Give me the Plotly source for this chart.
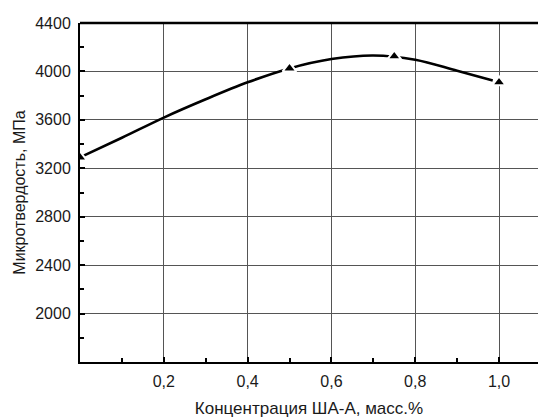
import plotly.graph_objects as go

# measured points
point_x = [0.0, 0.5, 0.75, 1.0]
point_y = [3290, 4025, 4125, 3910]

# fitted curve
curve_x = [0.0, 0.1, 0.2, 0.3, 0.4, 0.5, 0.6, 0.7, 0.8, 0.9, 0.985]
curve_y = [3290, 3452, 3619, 3770, 3910, 4025, 4102, 4132, 4097, 4005, 3925]

x_tickvals = [0.2, 0.4, 0.6, 0.8, 1.0]
x_ticktext = ["0,2", "0,4", "0,6", "0,8", "1,0"]
y_tickvals = [2000, 2400, 2800, 3200, 3600, 4000, 4400]
y_ticktext = ["2000", "2400", "2800", "3200", "3600", "4000", "4400"]

x_title = "Концентрация ША-А, масс.%"
y_title = "Микротвердость, МПа"

FONT = "Liberation Sans, Arial, sans-serif"

fig = go.Figure()
fig.add_trace(go.Scatter(
    x=curve_x, y=curve_y, mode="lines",
    line=dict(color="black", width=2.6, shape="spline", smoothing=1.0),
    hoverinfo="skip", showlegend=False,
))
fig.add_trace(go.Scatter(
    x=point_x, y=point_y, mode="markers",
    marker=dict(symbol="triangle-up", size=12, color="black",
                line=dict(color="white", width=2)),
    showlegend=False, cliponaxis=True,
))

fig.update_layout(
    width=538, height=418,
    margin=dict(l=80, r=0, t=23, b=56),
    paper_bgcolor="white", plot_bgcolor="white",
    font=dict(family=FONT, color="#1a1a1a"),
    showlegend=False,
)
fig.update_xaxes(
    range=[0, 1.093], tickvals=x_tickvals, ticktext=x_ticktext,
    tickfont=dict(size=16, color="#1a1a1a"),
    showgrid=True, gridcolor="#555555", gridwidth=1,
    showline=True, linecolor="black", linewidth=2,
    mirror=False, zeroline=False,
    ticks="inside", ticklen=5, tickwidth=1.5, tickcolor="black",
    minor=dict(ticks="inside", ticklen=4, tickwidth=1.5, tickcolor="black", dtick=0.1, tick0=0, showgrid=False),
    ticklabelstandoff=4,
    title=dict(text=x_title, font=dict(size=17, color="#1a1a1a"), standoff=13),
)
fig.update_yaxes(
    range=[1600, 4400], tickvals=y_tickvals, ticktext=y_ticktext,
    tickfont=dict(size=16, color="#1a1a1a"),
    showgrid=True, gridcolor="#555555", gridwidth=1,
    showline=True, linecolor="black", linewidth=2,
    zeroline=False,
    ticks="inside", ticklen=5, tickwidth=1.5, tickcolor="black",
    minor=dict(ticks="inside", ticklen=4, tickwidth=1.5, tickcolor="black", dtick=200, tick0=1600, showgrid=False),
    ticklabelstandoff=4,
    title=dict(text=y_title, font=dict(size=16, color="#1a1a1a"), standoff=6),
)
# top border line
fig.add_shape(type="line", xref="paper", yref="paper", x0=0, x1=1, y0=1, y1=1,
              line=dict(color="black", width=2.5))
fig.write_html("out.html")
